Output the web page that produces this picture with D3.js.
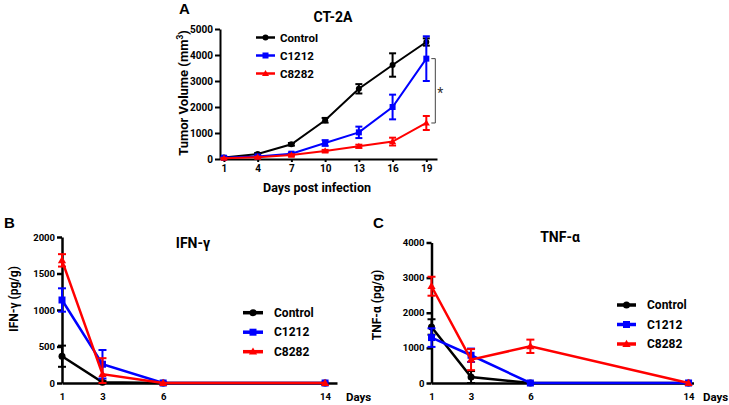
<!DOCTYPE html>
<html><head><meta charset="utf-8">
<script src="https://cdn.jsdelivr.net/npm/d3@7/dist/d3.min.js"></script>
<style>body{margin:0;background:#fff}svg{display:block;font-family:Roboto,"Open Sans",sans-serif;font-weight:700}</style>
</head><body>
<svg id="c" width="729" height="405"></svg>
<script>
// ---------- DATA ----------
const seriesNames = ["Control", "C1212", "C8282"];
const seriesColors = ["#000000", "#0000ff", "#ff0000"];
const seriesShapes = ["circle", "square", "triangle"];

// Panel A: tumor volume
const daysA = [1, 4, 7, 10, 13, 16, 19];
const tumorControl = [60, 190, 565, 1490, 2700, 3615, 4500];
const tumorControlErr = [30, 40, 50, 90, 180, 450, 140];
const tumorC1212 = [50, 100, 205, 615, 1025, 2000, 3860];
const tumorC1212Err = [20, 30, 40, 110, 220, 475, 860];
const tumorC8282 = [30, 70, 150, 310, 490, 670, 1385];
const tumorC8282Err = [15, 20, 30, 40, 60, 150, 270];
const ticksA_x = [1, 4, 7, 10, 13, 16, 19];
const ticksA_y = [0, 1000, 2000, 3000, 4000, 5000];

// Panel B: IFN-gamma
const daysB = [1, 3, 6, 14];
const ifnControl = [367, 10, 0, 0];
const ifnControlErr = [145, 20, 0, 0];
const ifnC1212 = [1137, 257, 0, 0];
const ifnC1212Err = [160, 195, 10, 0];
const ifnC8282 = [1680, 120, 0, 0];
const ifnC8282Err = [85, 220, 0, 0];
const ticksB_y = [0, 500, 1000, 1500, 2000];

// Panel C: TNF-alpha
const daysC = [1, 3, 6, 14];
const tnfControl = [1595, 170, 0, 0];
const tnfControlErr = [220, 170, 0, 0];
const tnfC1212 = [1293, 790, 0, 0];
const tnfC1212Err = [265, 190, 0, 0];
const tnfC8282 = [2755, 665, 1045, 0];
const tnfC8282Err = [270, 300, 190, 0];
const ticksC_y = [0, 1000, 2000, 3000, 4000];

const svg = d3.select("#c");

function marker(g, shape, cx, cy, s, color) {
  if (shape === "circle") {
    g.append("circle").attr("cx", cx).attr("cy", cy).attr("r", s / 2).attr("fill", color);
  } else if (shape === "square") {
    g.append("rect").attr("x", cx - s / 2).attr("y", cy - s / 2).attr("width", s).attr("height", s).attr("fill", color);
  } else {
    const sym = d3.symbol().type(d3.symbolTriangle).size(s * s * 0.6);
    g.append("path").attr("d", sym()).attr("transform", `translate(${cx},${cy + 0.5})`).attr("fill", color);
  }
}

function panel(cfg) {
  const g = svg.append("g");
  const x = d3.scaleLinear().domain(cfg.xDomain).range(cfg.xRange);
  const y = d3.scaleLinear().domain(cfg.yDomain).range(cfg.yRange);

  const ya = g.append("g").attr("transform", `translate(${cfg.xRange[0]},0)`)
    .call(d3.axisLeft(y).tickValues(cfg.yTicks).tickSize(5).tickSizeOuter(0).tickPadding(2).tickFormat(d3.format("d")));
  ya.select(".domain").attr("stroke-width", cfg.axisW);
  ya.selectAll(".tick line").attr("stroke-width", cfg.axisW);
  ya.selectAll("text").attr("font-size", cfg.tickFs).attr("font-weight", "700").attr("font-family", "Roboto, sans-serif").attr("fill", "#000");

  const xa = g.append("g").attr("transform", `translate(0,${cfg.yRange[0]})`)
    .call(d3.axisBottom(x).tickValues(cfg.xTicks).tickSize(cfg.xTickSize).tickSizeOuter(0).tickPadding(cfg.xTickPad).tickFormat(d3.format("d")));
  xa.select(".domain").attr("stroke-width", cfg.axisW);
  xa.selectAll(".tick line").attr("stroke-width", cfg.axisW);
  xa.selectAll("text").attr("font-size", cfg.tickFs).attr("font-weight", "700").attr("font-family", "Roboto, sans-serif").attr("fill", "#000");

  cfg.series.forEach((s, i) => {
    const col = seriesColors[i];
    const pts = cfg.days.map((d, k) => ({ d, v: s.v[k], e: s.e[k] }));
    g.append("path").datum(pts)
      .attr("d", d3.line().x(p => x(p.d)).y(p => y(p.v)))
      .attr("fill", "none").attr("stroke", col).attr("stroke-width", cfg.lineW);
    pts.forEach(p => {
      if (p.e > 0) {
        const x0 = x(p.d), y1 = y(p.v + p.e), y2 = y(Math.max(0, p.v - p.e));
        g.append("line").attr("x1", x0).attr("x2", x0).attr("y1", y1).attr("y2", y2).attr("stroke", col).attr("stroke-width", cfg.errW);
        [y1, y2].forEach(yy => g.append("line").attr("x1", x0 - cfg.cap).attr("x2", x0 + cfg.cap).attr("y1", yy).attr("y2", yy).attr("stroke", col).attr("stroke-width", cfg.errW));
      }
      marker(g, seriesShapes[i], x(p.d), y(p.v), cfg.mk, col);
    });
  });

  seriesNames.forEach((n, i) => {
    const yy = cfg.leg.y + i * cfg.leg.dy;
    g.append("line").attr("x1", cfg.leg.x1).attr("x2", cfg.leg.x2).attr("y1", yy).attr("y2", yy)
      .attr("stroke", seriesColors[i]).attr("stroke-width", cfg.leg.w);
    marker(g, seriesShapes[i], (cfg.leg.x1 + cfg.leg.x2) / 2, yy, cfg.mk, seriesColors[i]);
    g.append("text").attr("x", cfg.leg.tx).attr("y", yy).attr("dy", "0.35em")
      .attr("font-size", cfg.leg.fs).text(n);
  });

  g.append("text").attr("x", cfg.title.x).attr("y", cfg.title.y).attr("dy", "0.35em")
    .attr("text-anchor", "middle").attr("font-size", cfg.title.fs).text(cfg.title.t);
  const yl = g.append("text").attr("transform", `translate(${cfg.ylab.x},${cfg.ylab.y}) rotate(-90)`)
    .attr("text-anchor", "middle").attr("dy", "0.35em").attr("font-size", cfg.ylab.fs);
  cfg.ylab.parts.forEach(p => { const t = yl.append("tspan").text(p.t); if (p.sup) t.attr("baseline-shift", "super").attr("font-size", cfg.ylab.fs * 0.65); });
  g.append("text").attr("x", cfg.letter.x).attr("y", cfg.letter.y).attr("dy", "0.35em")
    .attr("font-family", "Liberation Sans, Arial, sans-serif").attr("font-size", 15).text(cfg.letter.t);
  return { g, x, y };
}

// Panel A
const A = panel({
  xDomain: [0.65, 19.95], xRange: [220, 437], yDomain: [0, 5000], yRange: [159, 29],
  yTicks: ticksA_y, xTicks: ticksA_x, xTickSize: 3, xTickPad: 3, tickFs: 10, axisW: 2,
  days: daysA,
  series: [{ v: tumorControl, e: tumorControlErr }, { v: tumorC1212, e: tumorC1212Err }, { v: tumorC8282, e: tumorC8282Err }],
  lineW: 2, errW: 2, cap: 3.5, mk: 6,
  leg: { x1: 256, x2: 275, tx: 280, y: 37.5, dy: 18, w: 2.5, fs: 11.5 },
  title: { x: 333, y: 17, fs: 14, t: "CT-2A" },
  ylab: { x: 183, y: 93, fs: 13, parts: [{ t: "Tumor Volume (mm" }, { t: "3", sup: true }, { t: ")" }] },
  letter: { x: 179, y: 9, t: "A" }
});
A.g.append("text").attr("x", 317).attr("y", 188).attr("dy", "0.35em").attr("text-anchor", "middle")
  .attr("font-size", 12.5).text("Days post infection");
{
  const bx = A.x(19) + 9, yt = A.y(tumorC1212[6]), yb = A.y(tumorC8282[6]);
  A.g.append("path").attr("d", `M${bx - 4},${yt}H${bx}V${yb}H${bx - 4}`).attr("fill", "none").attr("stroke", "#444").attr("stroke-width", 1);
  A.g.append("text").attr("x", bx + 2).attr("y", (yt + yb) / 2 + 7).attr("font-size", 14).attr("font-weight", "400").attr("fill", "#333").text("*");
}

// Panel B
const B = panel({
  xDomain: [1, 14.59], xRange: [62, 337], yDomain: [0, 2000], yRange: [383, 237],
  yTicks: ticksB_y, xTicks: daysB, xTickSize: 0, xTickPad: 10, tickFs: 9.5, axisW: 2.5,
  days: daysB,
  series: [{ v: ifnControl, e: ifnControlErr }, { v: ifnC1212, e: ifnC1212Err }, { v: ifnC8282, e: ifnC8282Err }],
  lineW: 2.5, errW: 2, cap: 4, mk: 7,
  leg: { x1: 243, x2: 263, tx: 274, y: 312.7, dy: 19.5, w: 3.5, fs: 12 },
  title: { x: 193, y: 243, fs: 14, t: "IFN-γ" },
  ylab: { x: 14, y: 299, fs: 12, parts: [{ t: "IFN-γ (pg/g)" }] },
  letter: { x: 4, y: 223, t: "B" }
});
B.g.append("text").attr("x", 346).attr("y", 397).attr("dy", "0.35em").attr("font-size", 11.5).text("Days");

// Panel C
const C = panel({
  xDomain: [1, 14.25], xRange: [431.5, 693.5], yDomain: [0, 4000], yRange: [383, 242.5],
  yTicks: ticksC_y, xTicks: daysC, xTickSize: 0, xTickPad: 10, tickFs: 9.5, axisW: 2.5,
  days: daysC,
  series: [{ v: tnfControl, e: tnfControlErr }, { v: tnfC1212, e: tnfC1212Err }, { v: tnfC8282, e: tnfC8282Err }],
  lineW: 2.5, errW: 2, cap: 4, mk: 7,
  leg: { x1: 617, x2: 636, tx: 647, y: 305, dy: 19.5, w: 3.5, fs: 12 },
  title: { x: 560, y: 237, fs: 14, t: "TNF-α" },
  ylab: { x: 377, y: 305, fs: 12, parts: [{ t: "TNF-α (pg/g)" }] },
  letter: { x: 373, y: 223, t: "C" }
});
C.g.append("text").attr("x", 703).attr("y", 397).attr("dy", "0.35em").attr("font-size", 11.5).text("Days");
</script>
</body></html>
